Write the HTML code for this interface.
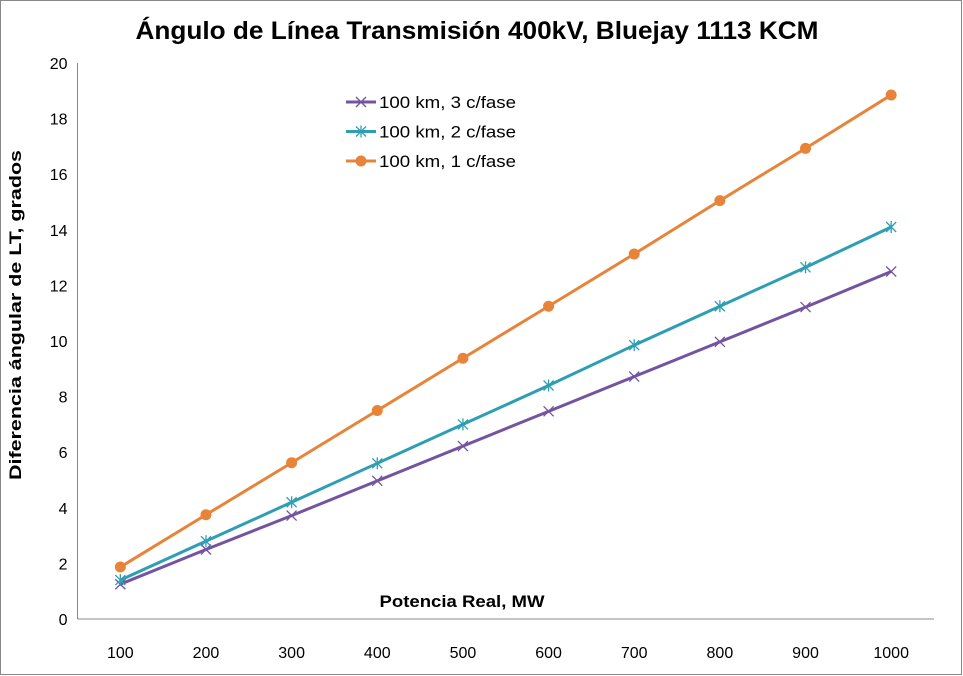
<!DOCTYPE html>
<html><head><meta charset="utf-8"><style>
html,body{margin:0;padding:0;background:#fff}
svg{display:block;font-family:"Liberation Sans",sans-serif}
</style></head><body>
<svg id="chart" width="963" height="676" viewBox="0 0 963 676">
<rect x="0.5" y="0.5" width="961" height="674" fill="#fff" stroke="#888"/>
<text x="477" y="39" text-anchor="middle" font-size="25" font-weight="bold" fill="#000" textLength="683" lengthAdjust="spacingAndGlyphs">Ángulo de Línea  Transmisión 400kV,  Bluejay 1113 KCM</text>
<g id="axes"></g>
<g id="series"></g>
<text x="462" y="607" text-anchor="middle" font-size="17" font-weight="bold" textLength="165" lengthAdjust="spacingAndGlyphs">Potencia Real, MW</text>
<text transform="translate(21,315) rotate(-90)" text-anchor="middle" font-size="17" font-weight="bold" textLength="330" lengthAdjust="spacingAndGlyphs">Diferencia ángular de  LT, grados</text>
<g id="legend"></g>
</svg>
<script>
const categories=[100,200,300,400,500,600,700,800,900,1000];
const yTicks=[0,2,4,6,8,10,12,14,16,18,20];
const s3=[1.25,2.5,3.72,4.97,6.22,7.47,8.72,9.97,11.22,12.5];
const s2=[1.4,2.8,4.2,5.6,7.0,8.4,9.85,11.25,12.65,14.1];
const s1=[1.87,3.75,5.62,7.5,9.38,11.25,13.13,15.05,16.93,18.85];
const names=["100 km, 3 c/fase","100 km, 2 c/fase","100 km, 1 c/fase"];
const NS="http://www.w3.org/2000/svg";
const L=77.5,R=934,T=63,B=619;
const xs=i=>L+(R-L)/categories.length*(i+0.5);
const ys=v=>B-(B-T)*v/20;
function mk(tag,at,parent){const e=document.createElementNS(NS,tag);for(const k in at)e.setAttribute(k,at[k]);parent.appendChild(e);return e;}
const ax=document.getElementById('axes');
let e=mk('line',{x1:L,y1:T,x2:L,y2:B,stroke:'#888'},ax);


e=mk('line',{x1:L,y1:B,x2:R,y2:B,stroke:'#888'},ax);


yTicks.forEach(v=>{const t=mk('text',{x:L-10,y:ys(v)+6,'text-anchor':'end','font-size':16},ax);t.textContent=v;

});
categories.forEach((c,i)=>{const t=mk('text',{x:xs(i),y:658,'text-anchor':'middle','font-size':16},ax);t.textContent=c;

});
const sg=document.getElementById('series');
const defs=[[s3,'#7454a0','x'],[s2,'#2e9fb2','star'],[s1,'#e8843a','dot']];
function marker(kind,x,y,c,g){
 if(kind==='dot')return mk('circle',{cx:x,cy:y,r:5.5,fill:c},g);
 const gg=mk('g',{stroke:c,'stroke-width':1.3},g);
 mk('line',{x1:x-5,y1:y-5,x2:x+5,y2:y+5},gg);mk('line',{x1:x-5,y1:y+5,x2:x+5,y2:y-5},gg);
 if(kind==='star')mk('line',{x1:x,y1:y-6,x2:x,y2:y+6},gg);
 return gg;}
defs.forEach(([d,c,k],si)=>{
 const g=mk('g',{},sg);
 
 
 const p=mk('polyline',{points:d.map((v,i)=>xs(i)+','+ys(v)).join(' '),fill:'none',stroke:c,'stroke-width':3},g);
 
 
 d.forEach((v,i)=>{const m=marker(k,xs(i),ys(v),c,g);
 
 });
});
const lg=document.getElementById('legend');
defs.forEach(([d,c,k],i)=>{
 const y=102+i*29.5;
 const g=mk('g',{},lg);
 
 
 mk('line',{x1:346,y1:y,x2:376,y2:y,stroke:c,'stroke-width':3},g);
 marker(k,361,y,c,g);
 const t=mk('text',{x:379,y:y+6,'font-size':17,textLength:137,lengthAdjust:'spacingAndGlyphs'},g);t.textContent=names[i];
});
</script>
</body></html>
